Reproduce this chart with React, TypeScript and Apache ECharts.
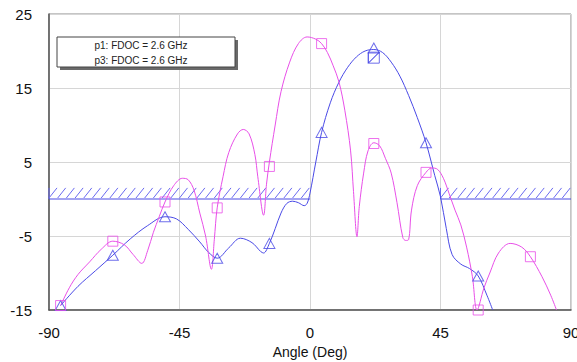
import React, { useEffect, useRef } from "react";
import * as echarts from "echarts";

// p1 trace (blue, triangles): [angle deg, value]
const p1Line: number[][] = [
  [-86, -14.4], [-80, -11.8], [-74, -9.7], [-68, -7.6], [-62, -5.4], [-56, -3.6], [-50, -2.4],
  [-46, -2.7], [-42, -4.1], [-38, -5.8], [-35, -7.2], [-32, -8], [-28, -6.6], [-24, -5.3],
  [-20, -5.9], [-17, -7.1], [-16, -7.3], [-14, -6], [-12, -4], [-10, -1.9], [-8, -0.6],
  [-6, -0.3], [-4, -0.5], [-2, -0.9], [-1, -0.6], [0, 0.8], [2, 5], [4, 9], [7, 13],
  [10, 15.8], [13, 17.8], [16, 19.2], [19, 20], [22, 20.2], [25, 19.8], [28, 18.5],
  [31, 16.6], [34, 14], [37, 11], [40, 7.6], [43, 3.2], [45, 0.3], [47, -4], [49, -7.5],
  [52, -8.8], [55, -9.4], [58, -10.4], [61, -13], [63, -15],
];

// p3 trace (magenta, squares)
const p3Line: number[][] = [
  [-86, -14.4], [-83, -12], [-80, -10.2], [-76, -8.5], [-72, -6.8], [-68, -5.7], [-64, -6.2],
  [-61, -7.5], [-58, -8.7], [-56, -7], [-54, -4.5], [-52, -2.4], [-50, -0.4], [-47, 1.8],
  [-44, 2.8], [-42, 2.6], [-40, 1.2], [-38, -1.9], [-36, -5], [-34, -9.5], [-33, -5.5],
  [-32, -1.2], [-30, 3], [-28, 6.3], [-25, 8.8], [-23, 9.4], [-21, 8.8], [-19, 6],
  [-18, 3], [-16, -2.2], [-15, 2], [-14, 5], [-12, 10], [-10, 14.5], [-7, 18.5], [-4, 21],
  [-1, 21.9], [2, 21.6], [4, 21], [6, 19.8], [8, 18], [10, 15.8], [12, 12], [14, 6.5],
  [15, 1], [16.2, -5.1], [17, -1], [18.5, 3.5], [20, 6.5], [22, 7.6], [24, 7.2], [26, 5.5],
  [28, 3.5], [30, -0.5], [32, -5.2], [33, -5.6], [34, -5.5], [35, -1.5], [37, 1.8],
  [40, 3.6], [42, 4.2], [44, 4], [46, 2.8], [48, 0.7], [50, -1.5], [52, -3.5], [54, -6.5],
  [56, -10.5], [57.6, -15], [60, -12], [62, -10], [65, -7.3], [69, -6], [73, -6.5],
  [76, -7.8], [80, -10.5], [83, -13], [85, -15],
];

const p1Markers: number[][] = [
  [-86, -14.4], [-68, -7.6], [-50, -2.4], [-32, -8], [-14, -6], [4, 9], [22, 20.4], [40, 7.6], [58, -10.4],
];
const p3Markers: number[][] = [
  [-86, -14.4], [-68, -5.7], [-50, -0.4], [-32, -1.2], [-14, 4.4], [4, 21], [22, 7.5], [40, 3.6], [58, -15], [76, -7.8],
];
const p1ExtraMarker: number[] = [22, 19.1];

// hatched limit regions: [xStart, xEnd, yLow, yHigh]
const limitRegions: number[][] = [
  [-90, 0, 0, 1.5],
  [45, 90, 0, 1.5],
];

const legendLabels = ["p1: FDOC = 2.6 GHz", "p3: FDOC = 2.6 GHz"];

const BLUE = "#4a4ae6";
const PINK = "#e84fe8";
const HATCH = "#6a6af0";
const FONT = "Arial, 'Liberation Sans', sans-serif";

export default function App() {
  const ref = useRef<HTMLDivElement>(null);
  useEffect(() => {
    if (!ref.current) return;
    const chart = echarts.init(ref.current, undefined, { renderer: "svg" });
    const option: any = {
      animation: false,
      backgroundColor: "#ffffff",
      textStyle: { fontFamily: FONT },
      grid: {
        left: 49, right: 6, top: 14, bottom: 52,
        containLabel: false, outerBoundsMode: "none",
        show: true, borderColor: "#8a8a8a", borderWidth: 1, backgroundColor: "transparent",
      },
      xAxis: {
        type: "value", min: -90, max: 90, interval: 45,
        name: "Angle (Deg)", nameLocation: "middle", nameGap: 35,
        nameTextStyle: { fontSize: 14, color: "#111", fontFamily: FONT },
        axisLine: { show: true, onZero: false, lineStyle: { color: "#555", width: 1.5 } },
        axisTick: { show: false },
        axisLabel: { fontSize: 15, color: "#111", margin: 15, fontFamily: FONT },
        splitLine: { show: true, lineStyle: { color: "#d6d6d6", width: 1 } },
      },
      yAxis: {
        type: "value", min: -15, max: 25, interval: 10,
        axisLine: { show: true, onZero: false, lineStyle: { color: "#555", width: 1.5 } },
        axisTick: { show: false },
        axisLabel: { fontSize: 15, color: "#111", margin: 17, fontFamily: FONT },
        splitLine: { show: true, lineStyle: { color: "#d6d6d6", width: 1 } },
      },
      series: [
        {
          type: "custom",
          data: limitRegions,
          z: 2,
          renderItem: (params: any, api: any) => {
            const x0 = api.value(0), x1 = api.value(1), y0 = api.value(2), y1 = api.value(3);
            const a = api.coord([x0, y0]);
            const b = api.coord([x1, y1]);
            const children: any[] = [];
            children.push({
              type: "line",
              shape: { x1: a[0], y1: a[1], x2: b[0], y2: a[1] },
              style: { stroke: BLUE, lineWidth: 1.2 },
            });
            children.push({
              type: "line",
              shape: { x1: a[0], y1: a[1], x2: a[0], y2: b[1] },
              style: { stroke: HATCH, lineWidth: 1 },
            });
            const dx = 8;
            const step = 8.7;
            for (let x = a[0]; x + dx <= b[0] + 0.5; x += step) {
              children.push({
                type: "line",
                shape: { x1: x, y1: a[1] - 1, x2: x + dx, y2: b[1] },
                style: { stroke: HATCH, lineWidth: 1 },
              });
            }
            return { type: "group", children };
          },
        },
        {
          type: "line", name: "p1", data: p1Line, smooth: 0.35, showSymbol: false,
          lineStyle: { color: BLUE, width: 1 }, z: 3,
        },
        {
          type: "line", name: "p3", data: p3Line, smooth: 0.35, showSymbol: false,
          lineStyle: { color: PINK, width: 1 }, z: 3,
        },
        {
          type: "scatter", data: p1Markers, symbol: "triangle", symbolSize: [11, 10],
          itemStyle: { color: "rgba(255,255,255,0)", borderColor: BLUE, borderWidth: 1 }, z: 4,
        },
        {
          type: "scatter", data: [p1ExtraMarker],
          symbol: "path://M0 0H10V10H0Z M0 10L10 0 M0 0L0 10L10 0",
          symbolSize: 11,
          itemStyle: { color: "rgba(255,255,255,0)", borderColor: BLUE, borderWidth: 1 }, z: 4,
        },
        {
          type: "scatter", data: p3Markers, symbol: "rect", symbolSize: 10,
          itemStyle: { color: "rgba(255,255,255,0)", borderColor: PINK, borderWidth: 1 }, z: 4,
        },
      ],
      graphic: [
        {
          type: "rect", z: 10,
          shape: { x: 60, y: 40, width: 178, height: 30 },
          style: { fill: "#6a6a6a" },
        },
        {
          type: "rect", z: 11,
          shape: { x: 57, y: 37, width: 178, height: 30 },
          style: { fill: "#ffffff", stroke: "#444", lineWidth: 1 },
        },
        {
          type: "text", z: 12, x: 141, y: 45,
          style: {
            text: legendLabels[0], fill: "#222", fontSize: 10, align: "center", verticalAlign: "middle",
            fontFamily: FONT,
          },
        },
        {
          type: "text", z: 12, x: 141, y: 60,
          style: {
            text: legendLabels[1], fill: "#222", fontSize: 10, align: "center", verticalAlign: "middle",
            fontFamily: FONT,
          },
        },
      ],
    };
    chart.setOption(option);
    return () => chart.dispose();
  }, []);
  return (
    <div
      ref={ref}
      style={{ position: "fixed", left: 0, top: 0, width: 577, height: 362, background: "#fff" }}
    />
  );
}
